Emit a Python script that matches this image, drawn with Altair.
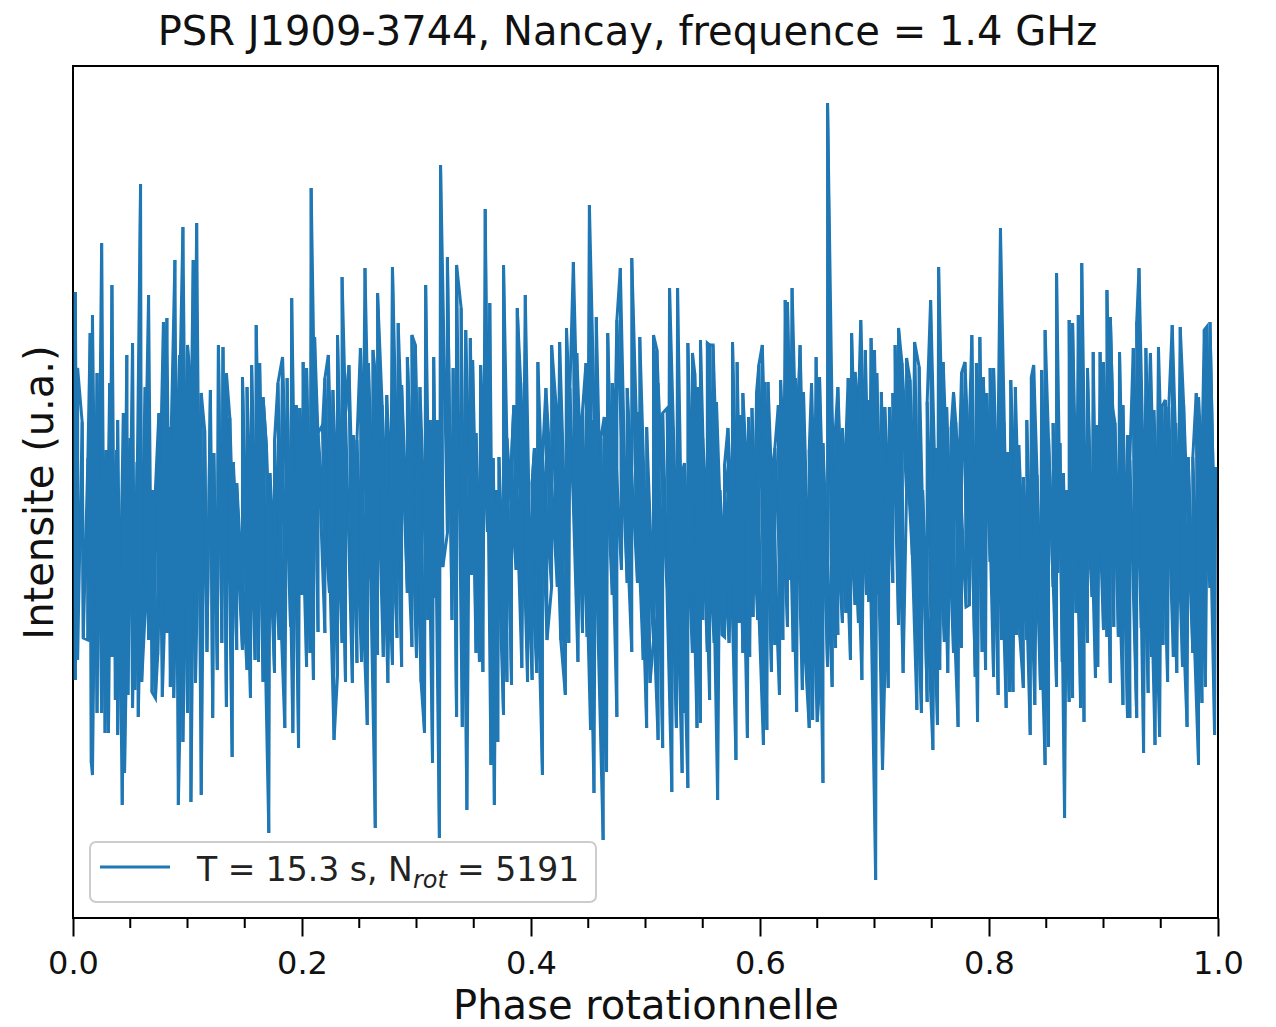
import altair as alt
import pandas as pd

# ---- data ----
top_phase = [
    .002,.004,.008,.013,.015,.017,.021,.025,.029,.032,
    .034,.038,.039,.044,.047,.050,.052,.056,.059,.063,
    .066,.070,.075,.079,.082,.085,.089,.093,.096,.100,
    .102,.105,.108,.112,.115,.120,.123,.127,.131,.134,
    .137,.140,.143,.148,.152,.156,.160,.163,.166,.169,
    .172,.176,.179,.183,.187,.191,.195,.198,.201,.204,
    .208,.211,.214,.218,.220,.223,.227,.231,.235,.238,
    .241,.245,.248,.251,.255,.258,.262,.264,.266,.270,
    .274,.278,.279,.284,.287,.292,.293,.296,.299,.303,
    .308,.312,.315,.318,.321,.327,.332,.335,.339,.343,
    .347,.349,.352,.356,.360,.364,.367,.370,.372,.376,
    .379,.383,.385,.388,.391,.395,.397,.401,.403,.406,
    .410,.413,.418,.422,.425,.431,.434,.437,.440,.443,
    .445,.448,.451,.454,.457,.461,.464,.467,.471,.473,
    .475,.478,.480,.484,.488,.491,.493,.495,.499,.501,
    .507,.510,.511,.515,.519,.521,.524,.528,.529,.532,
    .534,.537,.541,.543,.546,.548,.550,.554,.556,.559,
    .562,.565,.569,.572,.576,.580,.583,.585,.588,.590,
    .593,.597,.599,.602,.604,.607,.611,.613,.616,.618,
    .622,.624,.628,.631,.633,.635,.638,.643,.645,.649,
    .652,.655,.659,.661,.664,.666,.668,.672,.675,.677,
    .680,.683,.686,.688,.692,.694,.697,.700,.702,.706,
    .709,.713,.716,.718,.721,.724,.728,.731,.735,.739,
    .742,.746,.749,.753,.756,.760,.763,.767,.769,.771,
    .774,.776,.779,.783,.785,.789,.792,.795,.798,.801,
    .804,.808,.810,.813,.816,.819,.823,.826,.830,.833,
    .837,.839,.842,.846,.849,.852,.856,.859,.862,.865,
    .868,.870,.873,.878,.881,.883,.886,.891,.894,.897,
    .900,.903,.906,.908,.910,.914,.917,.921,.923,.926,
    .929,.931,.934,.937,.940,.941,.944,.948,.951,.954,
    .957,.960,.963,.967,.970,.974,.978,.981,.983,.986,
    .988,.990,.993,.996,.998,
]
top_intensity = [
    2.08,1.32,0.78,0.42,1.67,1.85,1.27,2.57,0.50,1.17,
    2.15,0.50,0.80,0.87,1.45,0.62,1.57,0.38,3.16,1.13,
    2.05,0.10,0.87,1.78,1.82,0.73,2.40,1.45,2.73,1.55,
    1.30,2.40,2.77,1.07,0.70,1.10,0.47,1.55,1.53,1.27,
    0.82,0.38,0.17,1.23,1.13,1.35,1.75,1.37,1.03,0.52,
    0.27,0.60,1.17,1.43,1.22,2.02,0.95,0.92,1.38,1.32,
    3.12,1.63,0.67,0.75,1.22,1.45,1.10,1.65,2.23,0.87,
    1.35,0.65,0.60,1.52,2.32,1.37,1.50,1.27,2.07,0.95,
    1.05,0.63,2.33,1.77,1.15,1.43,1.10,1.65,1.55,1.13,
    2.15,0.80,1.43,0.80,3.35,2.43,1.32,2.35,1.92,1.70,
    1.62,1.40,0.67,1.35,2.91,1.97,0.42,0.10,0.43,2.35,
    0.62,0.42,0.95,1.92,1.17,2.05,0.23,0.17,0.52,1.38,
    0.42,1.12,1.55,0.93,1.58,1.72,1.12,2.38,1.47,0.57,
    0.90,1.37,2.95,0.80,1.83,0.62,0.83,1.67,1.17,0.53,
    1.80,2.32,0.78,1.12,2.42,0.47,0.88,1.63,0.10,0.73,
    1.65,1.50,1.17,0.87,0.92,2.12,0.73,2.12,0.75,0.27,
    0.37,1.57,1.47,1.27,1.13,1.60,0.62,1.57,1.55,1.55,
    0.98,0.10,0.35,0.72,1.58,1.38,0.85,1.07,0.42,0.83,
    0.92,1.08,1.35,1.55,1.18,1.18,0.30,0.52,0.95,1.20,
    2.00,1.98,2.12,1.22,0.75,1.55,1.08,0.50,1.17,1.43,
    1.23,0.57,3.97,1.80,0.28,0.73,1.13,0.72,0.57,1.22,
    1.67,1.28,0.93,1.80,1.50,1.00,1.62,1.50,1.27,1.08,
    0.93,0.93,1.07,1.55,1.72,1.37,1.42,1.20,1.58,1.33,
    0.10,0.98,2.00,0.52,2.33,1.38,0.93,0.73,1.08,0.78,
    0.38,1.27,1.38,0.80,1.65,1.37,1.63,1.23,1.07,1.32,
    1.32,0.70,2.72,0.78,0.48,1.20,1.13,0.55,0.23,0.80,
    1.23,1.35,0.25,1.30,1.70,0.62,0.77,2.27,0.57,0.27,
    0.10,1.80,1.77,1.85,2.37,0.53,1.32,1.48,0.75,1.48,
    1.38,2.10,1.83,0.92,0.77,1.48,0.95,0.65,0.40,1.52,
    1.78,2.32,0.10,1.52,0.85,1.47,0.90,1.53,0.93,1.00,
    0.93,1.75,0.77,1.73,0.95,0.43,0.43,1.07,1.03,0.42,
    1.70,1.73,1.78,0.10,0.33,
]
bottom_phase = [
    .002,.004,.009,.013,.016,.017,.021,.025,.028,.031,
    .034,.037,.039,.043,.045,.048,.052,.054,.057,.060,
    .063,.066,.069,.072,.074,.078,.082,.085,.088,.092,
    .096,.100,.103,.107,.112,.117,.122,.126,.130,.134,
    .139,.143,.148,.152,.155,.159,.162,.166,.171,.176,
    .180,.185,.190,.192,.197,.200,.204,.207,.210,.214,
    .220,.224,.228,.231,.235,.238,.244,.248,.252,.257,
    .261,.264,.266,.271,.275,.279,.283,.287,.292,.296,
    .300,.304,.307,.310,.314,.317,.320,.323,.327,.331,
    .335,.340,.344,.348,.352,.355,.358,.362,.365,.368,
    .371,.376,.379,.383,.387,.392,.397,.401,.405,.410,
    .414,.418,.423,.426,.430,.433,.438,.441,.445,.449,
    .452,.455,.459,.463,.466,.471,.475,.479,.484,.488,
    .493,.495,.498,.501,.504,.507,.511,.515,.520,.523,
    .527,.529,.532,.534,.537,.541,.545,.548,.550,.554,
    .556,.560,.563,.567,.569,.573,.576,.579,.582,.585,
    .589,.591,.594,.598,.603,.606,.610,.613,.617,.620,
    .624,.626,.629,.632,.637,.639,.643,.646,.650,.652,
    .655,.659,.663,.666,.668,.672,.675,.679,.683,.686,
    .689,.693,.695,.699,.701,.704,.707,.709,.712,.716,
    .718,.721,.725,.728,.733,.737,.741,.746,.751,.755,
    .757,.761,.764,.769,.773,.776,.780,.783,.786,.788,
    .790,.794,.797,.801,.804,.808,.811,.815,.818,.821,
    .824,.827,.830,.833,.836,.840,.845,.849,.852,.856,
    .859,.860,.864,.866,.870,.873,.876,.880,.883,.886,
    .890,.893,.895,.900,.903,.906,.909,.913,.917,.921,
    .923,.927,.929,.933,.935,.939,.942,.945,.949,.952,
    .956,.961,.964,.969,.973,.978,.983,.986,.989,.990,
    .993,.997,
]
bottom_intensity = [
    -1.80,-1.60,-1.38,-1.40,-2.63,-2.75,-2.13,-2.13,-2.33,-2.33,
    -1.57,-2.00,-2.35,-3.05,-2.73,-1.95,-2.08,-1.90,-2.17,-1.82,
    -1.13,-1.40,-1.92,-1.98,-1.55,-1.97,-1.33,-1.87,-1.98,-3.05,
    -2.42,-2.13,-3.02,-1.83,-2.95,-1.52,-2.18,-1.70,-1.43,-2.07,
    -2.57,-1.50,-1.50,-1.70,-1.98,-1.60,-1.62,-1.82,-3.33,-1.73,
    -1.40,-2.28,-1.27,-2.33,-2.48,-0.95,-1.67,-1.53,-1.80,-1.32,
    -1.33,-0.93,-2.40,-1.75,-1.43,-1.82,-1.83,-1.63,-1.62,-2.25,
    -1.07,-3.28,-1.55,-1.57,-1.83,-1.65,-1.38,-1.67,-0.93,-1.47,
    -1.58,-1.82,-2.33,-1.20,-2.63,-0.98,-3.38,-0.67,-0.33,-1.20,
    -2.17,-2.27,-3.10,-0.75,-1.53,-1.62,-1.72,-0.32,-2.65,-3.05,
    -2.42,-2.15,-1.82,-1.85,-0.70,-1.68,-1.82,-1.80,-1.73,-2.75,
    -1.40,-0.87,-0.87,-1.40,-1.95,-1.43,-0.33,-1.62,-1.33,-1.37,
    -2.30,-2.93,-1.02,-3.40,-2.72,-0.95,-2.17,-0.70,-0.83,-1.52,
    -0.83,-0.40,-1.60,-2.28,-1.83,-1.40,-2.40,-2.48,-1.23,-2.92,
    -2.28,-1.23,-2.73,-2.13,-2.88,-1.53,-2.28,-2.23,-1.20,-1.52,
    -2.00,-1.43,-3.00,-1.35,-1.37,-1.43,-0.22,-2.60,-1.23,-1.53,
    -2.38,-1.57,-1.17,-1.20,-2.45,-2.30,-1.72,-1.45,-1.95,-1.40,
    -1.27,-0.80,-1.52,-2.12,-1.90,-1.47,-2.28,-2.20,-2.22,-1.87,
    -2.83,-1.67,-1.87,-1.48,-1.35,-1.23,-1.13,-1.60,-1.05,-1.23,
    -1.80,-0.95,-1.02,-2.00,-3.80,-0.95,-2.70,-1.72,-1.88,-0.83,
    0.00,-1.25,-1.73,0.08,-0.55,-2.10,-2.13,-2.02,-2.50,-2.25,
    -1.70,-1.42,-1.73,-1.53,-2.27,-1.48,-1.07,-1.05,-0.67,-1.77,
    -2.22,-1.52,-1.70,-0.62,-1.77,-1.95,-1.40,-2.08,-1.92,-1.92,
    -1.35,-1.37,-1.88,-1.40,-2.35,-2.05,-1.90,-2.65,-2.47,-0.87,
    -1.87,-0.73,-1.62,-3.18,-2.02,-1.98,-1.13,-2.08,-2.22,-1.43,
    -0.97,-1.78,-1.67,-1.30,-1.37,-1.83,-1.27,-1.37,-2.05,-2.18,
    -2.18,-1.02,-2.18,-1.28,-2.53,-1.93,-1.57,-2.45,-2.37,-1.45,
    -1.82,-1.57,-1.73,-1.67,-2.27,-1.53,-2.65,-2.03,-1.87,-0.63,
    -0.88,-2.35,
]
major_ticks = [0.0, 0.2, 0.4, 0.6, 0.8, 1.0]
minor_ticks = [0.05, 0.10, 0.15, 0.25, 0.30, 0.35, 0.45, 0.50, 0.55,
               0.65, 0.70, 0.75, 0.85, 0.90, 0.95]
y_domain = [-4.18, 4.34]
title_text = "PSR J1909-3744, Nancay, frequence = 1.4 GHz"
x_title = "Phase rotationnelle"
y_title = "Intensite (u.a.)"
legend_main = ["T = 15.3 s, N"]
legend_sub = ["rot"]
legend_tail = ["= 5191"]

# ---- build the trace: walk the read peaks and troughs in phase order,
#      alternating peak / trough wherever the next one is close by ----
tops = sorted(zip(top_phase, top_intensity))
bots = sorted(zip(bottom_phase, bottom_intensity))
seq = []
i = j = 0
want_top = True
while i < len(tops) or j < len(bots):
    if i >= len(tops):
        seq.append(bots[j]); j += 1; continue
    if j >= len(bots):
        seq.append(tops[i]); i += 1; continue
    if want_top:
        if tops[i][0] <= bots[j][0] + 0.006:
            seq.append(tops[i]); i += 1; want_top = False
        else:
            seq.append(bots[j]); j += 1
    else:
        if bots[j][0] <= tops[i][0] + 0.006:
            seq.append(bots[j]); j += 1; want_top = True
        else:
            seq.append(tops[i]); i += 1

# second pass over the same points, strictly in phase order
merged = sorted(tops + bots)

rows = []
for k, (p, v) in enumerate(seq):
    rows.append({"phase": p, "intensity": v, "order": k, "pass": "a"})
for k, (p, v) in enumerate(merged):
    rows.append({"phase": p, "intensity": v, "order": k, "pass": "b"})
df = pd.DataFrame(rows)

W, H = 1145, 852
FONT = "DejaVu Sans"
BLUE = "#1f77b4"

x_scale = alt.Scale(domain=[0, 1], nice=False, zero=False)
y_scale = alt.Scale(domain=y_domain, nice=False, zero=False)

line = alt.Chart(df).mark_line(color=BLUE, strokeWidth=3.0, clip=True).encode(
    x=alt.X("phase:Q", scale=x_scale,
            axis=alt.Axis(values=major_ticks, format=".1f", title=x_title,
                          labelFontSize=32, titleFontSize=40, tickSize=18, tickWidth=2,
                          tickColor="black", labelColor="#111", titleColor="#111",
                          labelFont=FONT, titleFont=FONT, titleFontWeight="normal",
                          domain=False, grid=False, labelPadding=12, titlePadding=7,
                          labelFlush=False)),
    y=alt.Y("intensity:Q", scale=y_scale,
            axis=alt.Axis(labels=False, ticks=False, grid=False, domain=False,
                          title=y_title, titleFontSize=40, titleFont=FONT,
                          titleFontWeight="normal", titleColor="#111", titlePadding=13)),
    detail="pass:N",
    order="order:Q",
)

minor = alt.Chart(pd.DataFrame({"phase": minor_ticks})).mark_rule(
    color="black", strokeWidth=2).encode(
    x=alt.X("phase:Q", scale=x_scale),
    y=alt.value(H), y2=alt.value(H + 10),
)

legend_box = alt.Chart(pd.DataFrame({"k": [0]})).mark_rect(
    fill="white", fillOpacity=0.8, stroke="#cccccc", strokeWidth=2, cornerRadius=6
).encode(x=alt.value(17), x2=alt.value(523), y=alt.value(776), y2=alt.value(836))

legend_line = alt.Chart(pd.DataFrame({"k": [0]})).mark_rule(
    color=BLUE, strokeWidth=3).encode(x=alt.value(27), x2=alt.value(97), y=alt.value(801))

legend_t1 = alt.Chart(pd.DataFrame({"label": legend_main})).mark_text(
    align="left", baseline="alphabetic", fontSize=33, font=FONT, color="#222"
).encode(text="label:N", x=alt.value(124), y=alt.value(815))

legend_t2 = alt.Chart(pd.DataFrame({"label": legend_sub})).mark_text(
    align="left", baseline="alphabetic", fontSize=24, font=FONT, fontStyle="italic", color="#222"
).encode(text="label:N", x=alt.value(340), y=alt.value(822))

legend_t3 = alt.Chart(pd.DataFrame({"label": legend_tail})).mark_text(
    align="left", baseline="alphabetic", fontSize=33, font=FONT, color="#222"
).encode(text="label:N", x=alt.value(384), y=alt.value(815))

chart = alt.layer(line, minor, legend_box, legend_line, legend_t1, legend_t2, legend_t3).properties(
    width=W, height=H,
    title=alt.TitleParams(text=title_text, fontSize=40, font=FONT, fontWeight="normal",
                          anchor="middle", color="#111", offset=13, dx=-18),
    padding={"left": 73, "top": 66, "right": 58, "bottom": 109},
    autosize=alt.AutoSizeParams(type="none"),
    background="white",
).configure_view(stroke="black", strokeWidth=2)

chart.save("out.html", embed_options={"renderer": "svg", "actions": False})
